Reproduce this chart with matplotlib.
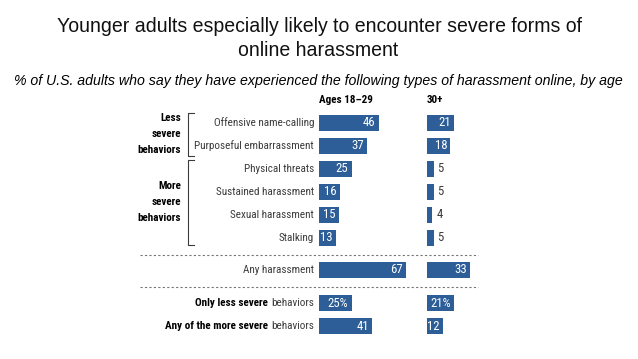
import matplotlib
matplotlib.use("Agg")
import matplotlib.pyplot as plt
import matplotlib.transforms as mtransforms
from matplotlib import font_manager

# data
categories = ["Offensive name-calling", "Purposeful embarrassment", "Physical threats",
              "Sustained harassment", "Sexual harassment", "Stalking",
              "Any harassment", "behaviors", "behaviors"]
bold_prefix = ["", "", "", "", "", "", "", "Only less severe", "Any of the more severe"]
young = [46, 37, 25, 16, 15, 13, 67, 25, 41]
older = [21, 18, 5, 5, 4, 5, 33, 21, 12]
pct_row = 7  # row with "%" on the labels
rows = [0, 1, 2, 3, 4, 5, 6.39, 7.83, 8.83]
groups = ["Less\nsevere\nbehaviors", "More\nsevere\nbehaviors"]
title = ["Younger adults especially likely to encounter severe forms of",
         "online harassment"]
subtitle = ("% of U.S. adults who say they have experienced the following "
            "types of harassment online, by age")

# pick a condensed face if there is one
fonts = font_manager.fontManager.ttflist
names = {f.name for f in fonts}
stretch = "normal"
family = "Liberation Sans"
for cand in ["Liberation Sans Narrow", "Roboto Condensed", "Open Sans Condensed",
             "Noto Sans Condensed", "DejaVu Sans Condensed"]:
    if cand in names:
        family = cand
        break
else:
    for cand in ["Roboto", "Noto Sans", "Open Sans", "DejaVu Sans"]:
        if any(f.name == cand and f.stretch in ("condensed", "semi-condensed", 300, 400)
               for f in fonts):
            family, stretch = cand, "condensed"
            break
plt.rcParams["font.family"] = [family, "DejaVu Sans"]
plt.rcParams["font.stretch"] = stretch

W, H = 638, 359
blue = "#2d5e98"
grey = "#3b3b3b"

fig = plt.figure(figsize=(W / 100, H / 100), dpi=100)
rend = fig.canvas.get_renderer()

def fit_size(text, target_px, **kw):
    # font size that makes `text` about target_px wide
    probe = fig.text(0, 0, text, fontsize=10, **kw)
    w = probe.get_window_extent(rend).width
    probe.remove()
    return 10 * target_px / w

head_font = dict(family="Liberation Sans", stretch="normal")
fs = min(fit_size(categories[1], 119), 9.5)
fs_title = fit_size(title[0], 527, **head_font)
fs_sub = fit_size(subtitle, 613, style="italic", **head_font)

def fx(px):
    return px / W

def fy(px):
    return 1 - px / H

scale = 1.3  # pixels per percentage point
top_px, bot_px = 110, 340
row_px = 23
y0 = (top_px - 123) / row_px
y1 = (bot_px - 123) / row_px

def make_ax(left_px, width_px):
    ax = fig.add_axes([fx(left_px), fy(bot_px), width_px / W, (bot_px - top_px) / H])
    ax.set_xlim(0, width_px / scale)
    ax.set_ylim(y1, y0)
    ax.axis("off")
    return ax

ax1 = make_ax(319, 100)
ax2 = make_ax(427, 50)

for ax, vals in [(ax1, young), (ax2, older)]:
    ax.barh(rows, vals, height=0.7, color=blue)
    for i, (r_, v) in enumerate(zip(rows, vals)):
        lab = f"{v}%" if i == pct_row else str(v)
        if v >= 10:
            ax.annotate(lab, xy=(v, r_), xytext=(-3, 0), textcoords="offset pixels",
                        ha="right", va="center", color="white", fontsize=fs + 1.2)
        else:
            ax.annotate(lab, xy=(v, r_), xytext=(4, 0), textcoords="offset pixels",
                        ha="left", va="center", color=grey, fontsize=fs + 1.2)

# category labels
for r_, name, pre in zip(rows, categories, bold_prefix):
    t = ax1.annotate(name, xy=(0, r_), xytext=(-5, 0), textcoords="offset pixels",
                     ha="right", va="center", color=grey, fontsize=fs)
    if pre:
        ax1.annotate(pre, xy=(0, 0.5), xycoords=t, xytext=(-3, 0),
                     textcoords="offset pixels", ha="right", va="center",
                     color="black", fontsize=fs, fontweight="bold")

# column headers
ax1.text(0, -1.0, "Ages 18\u201329", ha="left", va="center", fontsize=fs, fontweight="bold")
ax2.text(0, -1.0, "30+", ha="left", va="center", fontsize=fs, fontweight="bold")

# group brackets and labels
tr = mtransforms.blended_transform_factory(fig.transFigure, ax1.transData)
for (a, b), g in zip([(-0.43, 1.43), (1.61, 5.3)], groups):
    ax1.plot([fx(194), fx(188), fx(188), fx(194)], [a, a, b, b], color=grey,
             lw=0.8, transform=tr, clip_on=False)
    ax1.text(fx(181), (a + b) / 2, g, transform=tr, ha="right", va="center",
             fontsize=fs, fontweight="bold", linespacing=1.75)

# dashed separators
for yy in [5.74, 7.13]:
    ax1.plot([fx(140), fx(478)], [yy, yy], transform=tr, color="#777777",
             lw=0.8, ls=(0, (2, 2)), clip_on=False)

fig.text(fx(320), fy(27), title[0], ha="center", va="center", fontsize=fs_title,
         color="#111111", **head_font)
fig.text(fx(318), fy(50), title[1], ha="center", va="center", fontsize=fs_title,
         color="#111111", **head_font)
fig.text(fx(318), fy(81), subtitle, ha="center", va="center",
         fontsize=fs_sub, style="italic", **head_font)

fig.savefig("out.png", dpi=100)
